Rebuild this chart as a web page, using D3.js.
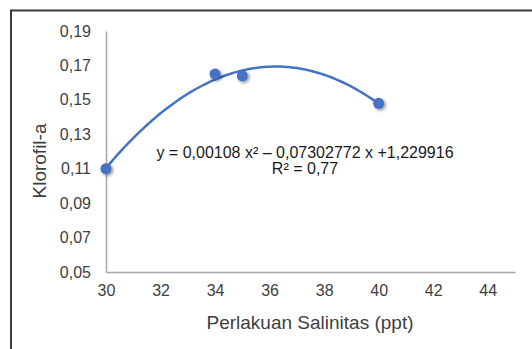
<!DOCTYPE html>
<html>
<head>
<meta charset="utf-8">
<script src="https://cdn.jsdelivr.net/npm/d3@7"></script>
<style>
  body { margin: 0; background: #fff; }
  text { font-family: "Liberation Sans", Arial, sans-serif; }
</style>
</head>
<body>
<div id="chart-container"></div>
<script>
// Data
const salinity = [30, 34, 35, 40];
const chlorophyll = [0.110, 0.165, 0.164, 0.148];
const xTicks = [30, 32, 34, 36, 38, 40, 42, 44];
const yTicks = [0.05, 0.07, 0.09, 0.11, 0.13, 0.15, 0.17, 0.19];
const equationText = "y = 0,00108 x\u00B2 \u2013 0,07302772 x +1,229916";
const rSquaredText = "R\u00B2 = 0,77";

const xAxisName = "Perlakuan Salinitas (ppt)";
const yAxisName = "Klorofil-a";

const W = 532, H = 349;
const plot = {left: 106, right: 515, top: 31, bottom: 272};
const blue = "#4472C4";

var svg = d3.select("#chart-container")
    .append("svg")
    .attr("width", W)
    .attr("height", H);

// outer frame (runs off the right and bottom of the picture)
svg.append("rect")
    .attr("x", 11)
    .attr("y", 10.5)
    .attr("width", W)
    .attr("height", H)
    .attr("fill", "none")
    .attr("stroke", "#3a3a3a")
    .attr("stroke-width", 2);

var xScale = d3.scaleLinear().domain([30, 45]).range([plot.left, plot.right]);
var yScale = d3.scaleLinear().domain([0.05, 0.19]).range([plot.bottom, plot.top]);

const fmt = d => d3.format(".2f")(d).replace(".", ",");

// x axis
var xAxis = svg.append("g")
    .attr("transform", `translate(0, ${plot.bottom})`)
    .call(d3.axisBottom(xScale).tickValues(xTicks).tickSize(0).tickPadding(13));
xAxis.select(".domain").attr("stroke", "#a6a6a6").attr("stroke-width", 1.5);
xAxis.selectAll("text")
    .style("font-size", "16px")
    .style("font-family", "'Liberation Sans', Arial, sans-serif")
    .attr("fill", "#404040");

// y axis
var yAxis = svg.append("g")
    .attr("transform", `translate(${plot.left}, 0)`)
    .call(d3.axisLeft(yScale).tickValues(yTicks).tickSize(0).tickPadding(15).tickFormat(fmt));
yAxis.select(".domain").attr("stroke", "#a6a6a6").attr("stroke-width", 1.5);
yAxis.selectAll("text")
    .style("font-size", "16px")
    .style("font-family", "'Liberation Sans', Arial, sans-serif")
    .attr("fill", "#404040");

// axis titles
svg.append("text")
    .attr("x", 310)
    .attr("y", 329)
    .attr("text-anchor", "middle")
    .style("font-size", "19px")
    .attr("fill", "#404040")
    .text(xAxisName);

svg.append("text")
    .attr("transform", "rotate(-90)")
    .attr("x", -161)
    .attr("y", 46)
    .attr("text-anchor", "middle")
    .style("font-size", "19px")
    .attr("fill", "#404040")
    .text(yAxisName);

// polynomial (order 2) trendline from least squares fit of the points
function fitQuadratic(xs, ys) {
    var s = [0, 0, 0, 0, 0], t = [0, 0, 0];
    xs.forEach((x, i) => {
        for (let k = 0; k < 5; k++) s[k] += Math.pow(x, k);
        for (let k = 0; k < 3; k++) t[k] += ys[i] * Math.pow(x, k);
    });
    var A = [[s[0], s[1], s[2], t[0]], [s[1], s[2], s[3], t[1]], [s[2], s[3], s[4], t[2]]];
    for (let i = 0; i < 3; i++) {
        for (let j = i + 1; j < 3; j++) {
            var f = A[j][i] / A[i][i];
            for (let k = i; k < 4; k++) A[j][k] -= f * A[i][k];
        }
    }
    var c = [0, 0, 0];
    for (let i = 2; i >= 0; i--) {
        var v = A[i][3];
        for (let k = i + 1; k < 3; k++) v -= A[i][k] * c[k];
        c[i] = v / A[i][i];
    }
    return c;
}
var coef = fitQuadratic(salinity, chlorophyll);
var trendX = d3.range(salinity[0], salinity[salinity.length - 1] + 0.01, 0.1);

var trendLine = d3.line()
    .x(d => xScale(d))
    .y(d => yScale(coef[0] + coef[1] * d + coef[2] * d * d));

svg.append("path")
    .datum(trendX)
    .attr("fill", "none")
    .attr("stroke", blue)
    .attr("stroke-width", 2.5)
    .attr("d", trendLine);

// marker shadow
var shadow = svg.append("defs").append("filter")
    .attr("id", "shadow")
    .attr("x", "-100%").attr("y", "-100%")
    .attr("width", "300%").attr("height", "300%");
shadow.append("feDropShadow")
    .attr("dx", 1.5).attr("dy", 1.5)
    .attr("stdDeviation", 1.8)
    .attr("flood-color", "#000")
    .attr("flood-opacity", 0.45);

svg.append("g")
    .selectAll("circle")
    .data(salinity)
    .join("circle")
    .attr("cx", d => xScale(d))
    .attr("cy", (d, i) => yScale(chlorophyll[i]))
    .attr("r", 5.5)
    .attr("fill", blue)
    .style("filter", "url(#shadow)");

// trendline label
var label = svg.append("text")
    .attr("text-anchor", "middle")
    .style("font-size", "16px")
    .attr("fill", "#1a1a1a");
label.append("tspan").attr("x", 305).attr("y", 158).text(equationText);
label.append("tspan").attr("x", 305).attr("y", 174).text(rSquaredText);
</script>
</body>
</html>
